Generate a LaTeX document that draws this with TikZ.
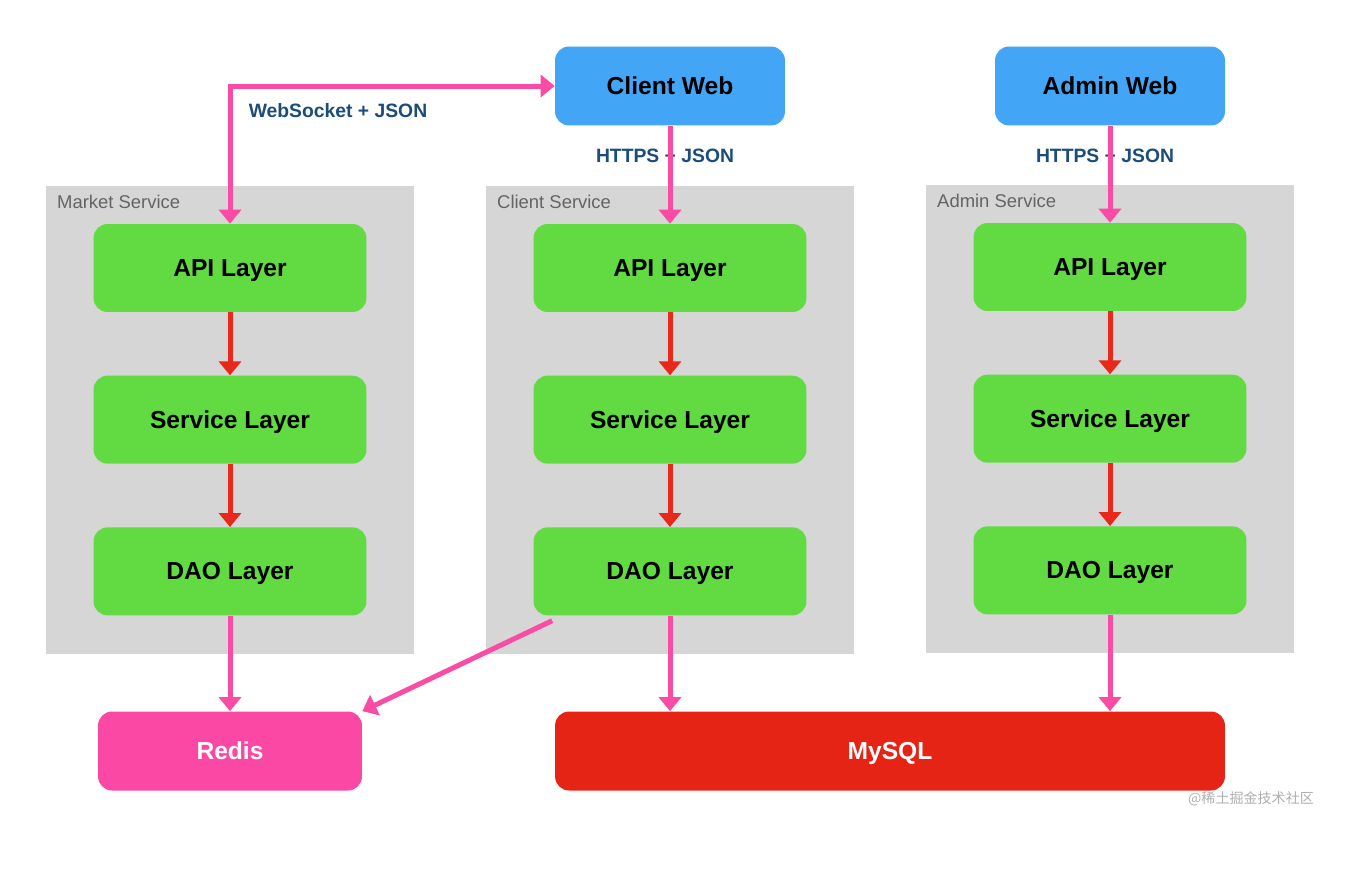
\documentclass[tikz,border=0pt]{standalone}
\usepackage{fontspec}
\setmainfont{Liberation Sans}
\newfontfamily\cjkfont{Noto Sans CJK SC}
\usetikzlibrary{arrows.meta,positioning,fit,backgrounds}

\definecolor{webblue}{RGB}{66,165,246}
\definecolor{layergreen}{RGB}{98,219,67}
\definecolor{panelgray}{RGB}{214,214,214}
\definecolor{labelgray}{RGB}{100,100,100}
\definecolor{redispink}{RGB}{251,72,164}
\definecolor{linkpink}{RGB}{250,75,165}
\definecolor{mysqlred}{RGB}{230,36,22}
\definecolor{flowred}{RGB}{232,40,26}
\definecolor{protoblue}{RGB}{28,76,122}
\definecolor{markgray}{RGB}{175,175,175}

\begin{document}
\begin{tikzpicture}[
  x=0.02cm, y=-0.02cm,
  node distance=1.26cm,
  layer/.style={rectangle, rounded corners=0.28cm, fill=layergreen, minimum width=5.46cm, minimum height=1.76cm, text depth=0pt, font=\fontsize{14}{16}\selectfont\bfseries},
  web/.style={rectangle, rounded corners=0.28cm, fill=webblue, minimum width=4.6cm, minimum height=1.58cm, text depth=0pt, font=\fontsize{14}{16}\selectfont\bfseries},
  store/.style={rectangle, rounded corners=0.28cm, minimum height=1.58cm, text depth=0pt, text=white, font=\fontsize{14}{16}\selectfont\bfseries},
  panel/.style={rectangle, fill=panelgray, inner xsep=0.94cm, inner ysep=0.76cm},
  panellabel/.style={anchor=north west, inner sep=0pt, text=labelgray, font=\fontsize{10.5}{12}\selectfont},
  proto/.style={inner sep=1pt, text=protoblue, font=\fontsize{11}{13}\selectfont\bfseries},
  flow/.style={draw=flowred, line width=0.1cm, -{Triangle[length=0.28cm,width=0.44cm]}},
  link/.style={draw=linkpink, line width=0.1cm, -{Triangle[length=0.28cm,width=0.44cm]}},
]
  \useasboundingbox (0,0) rectangle (1354,869);

  % clients
  \node[web] (clientweb) at (670,86) {Client Web};
  \node[web] (adminweb) at (1110,86) {Admin Web};

  % service layers
  \node[layer] (mktapi) at (230,268) {API Layer};
  \node[layer, below=of mktapi] (mktsvc) {Service Layer};
  \node[layer, below=of mktsvc] (mktdao) {DAO Layer};

  \node[layer] (cliapi) at (670,268) {API Layer};
  \node[layer, below=of cliapi] (clisvc) {Service Layer};
  \node[layer, below=of clisvc] (clidao) {DAO Layer};

  \node[layer] (admapi) at (1110,267) {API Layer};
  \node[layer, below=of admapi] (admsvc) {Service Layer};
  \node[layer, below=of admsvc] (admdao) {DAO Layer};

  % storage
  \node[store, fill=redispink, minimum width=5.28cm] (redis) at (230,751) {Redis};
  \node[store, fill=mysqlred, minimum width=13.4cm] (mysql) at (890,751) {MySQL};

  \begin{scope}[on background layer]
    \node[panel, fit=(mktapi) (mktdao)] (mktpanel) {};
    \node[panel, fit=(cliapi) (clidao)] (clipanel) {};
    \node[panel, fit=(admapi) (admdao)] (admpanel) {};
  \end{scope}
  \node[panellabel] (mktlabel) at ([xshift=0.22cm,yshift=-0.18cm]mktpanel.north west) {Market Service};
  \node[panellabel] (clilabel) at ([xshift=0.22cm,yshift=-0.18cm]clipanel.north west) {Client Service};
  \node[panellabel] (admlabel) at ([xshift=0.22cm,yshift=-0.18cm]admpanel.north west) {Admin Service};

  % protocols
  \node[proto] (wslabel) at (338,111) {WebSocket + JSON};
  \node[proto] (clihttps) at (665,156) {HTTPS + JSON};
  \node[proto] (admhttps) at (1105,156) {HTTPS + JSON};

  \draw[link, {Triangle[length=0.28cm,width=0.44cm]}-{Triangle[length=0.28cm,width=0.44cm]}] (mktapi.north) |- (clientweb.west);
  \draw[link] (clientweb) -- (cliapi);
  \draw[link] (adminweb) -- (admapi);

  \draw[flow] (mktapi) -- (mktsvc);
  \draw[flow] (mktsvc) -- (mktdao);
  \draw[flow] (cliapi) -- (clisvc);
  \draw[flow] (clisvc) -- (clidao);
  \draw[flow] (admapi) -- (admsvc);
  \draw[flow] (admsvc) -- (admdao);

  \draw[link] (mktdao) -- (redis);
  \draw[link] ([xshift=0.38cm,yshift=-0.1cm]clidao.south west) -- (redis.north east);
  \draw[link] (clidao) -- (clidao |- mysql.north);
  \draw[link] (admdao) -- (admdao |- mysql.north);

  \node[text=markgray, font=\cjkfont\fontsize{8}{10}\selectfont] (watermark) at (1251,799) {@稀土掘金技术社区};
\end{tikzpicture}
\end{document}
